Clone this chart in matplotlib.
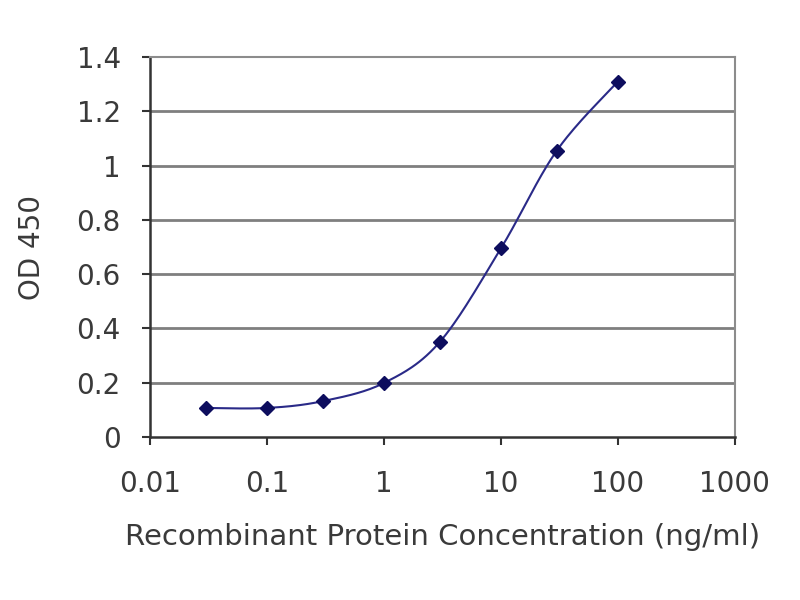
import numpy as np
import matplotlib
matplotlib.use("Agg")
import matplotlib.pyplot as plt

conc = [0.03, 0.1, 0.3, 1, 3, 10, 30, 100]
od450 = [0.107, 0.107, 0.132, 0.199, 0.35, 0.695, 1.055, 1.31]
y_ticks = [0, 0.2, 0.4, 0.6, 0.8, 1.0, 1.2, 1.4]
y_tick_labels = ["0", "0.2", "0.4", "0.6", "0.8", "1", "1.2", "1.4"]
x_ticks = [0.01, 0.1, 1, 10, 100, 1000]
x_tick_labels = ["0.01", "0.1", "1", "10", "100", "1000"]

plt.rcParams['font.family'] = ['DejaVu Sans']
text_color = '#3a3a3a'
navy = '#2a2a88'

fig = plt.figure(figsize=(8, 6), dpi=100)
ax = fig.add_axes([0.1875, 0.2717, 0.731, 0.633])

# smoothed line (Catmull-Rom in log-x space), like a spreadsheet smoothed line
lx = np.log10(conc)
yy = np.array(od450)
P = np.column_stack([lx, yy])
Pe = np.vstack([P[0], P, P[-1]])
curve = []
for i in range(1, len(Pe) - 2):
    p0, p1, p2, p3 = Pe[i - 1], Pe[i], Pe[i + 1], Pe[i + 2]
    for t in np.linspace(0, 1, 30, endpoint=False):
        t2, t3 = t * t, t * t * t
        pt = 0.5 * ((2 * p1) + (-p0 + p2) * t + (2 * p0 - 5 * p1 + 4 * p2 - p3) * t2 + (-p0 + 3 * p1 - 3 * p2 + p3) * t3)
        curve.append(pt)
curve.append(P[-1])
curve = np.array(curve)
ax.plot(10 ** curve[:, 0], curve[:, 1], color=navy, lw=1.5, zorder=3)
ax.plot(conc, od450, linestyle='none', marker='D', markersize=7.5, color='#0d0d5e', zorder=4)

ax.set_xscale('log')
ax.set_xlim(0.01, 1000)
ax.set_ylim(0, 1.4)
ax.set_xticks(x_ticks)
ax.set_xticklabels(x_tick_labels)
ax.minorticks_off()
ax.set_yticks(y_ticks)
ax.set_yticklabels(y_tick_labels)

for y in y_ticks[1:-1]:
    ax.axhline(y, color='#7f7f7f', lw=2.0, zorder=1)

for s in ['top', 'right']:
    ax.spines[s].set_color('#8c8c8c')
    ax.spines[s].set_linewidth(1.5)
for s in ['left', 'bottom']:
    ax.spines[s].set_color('#333333')
    ax.spines[s].set_linewidth(1.8)

ax.tick_params(axis='both', direction='out', length=6, width=1.5, color='#333333',
               labelsize=20, labelcolor=text_color)
ax.tick_params(axis='x', pad=18)
ax.tick_params(axis='y', pad=15)

ax.set_xlabel('Recombinant Protein Concentration (ng/ml)', fontsize=21, color=text_color, labelpad=18)
ax.set_ylabel('OD 450', fontsize=20, color=text_color, labelpad=22)

fig.savefig('out.png', dpi=100)
